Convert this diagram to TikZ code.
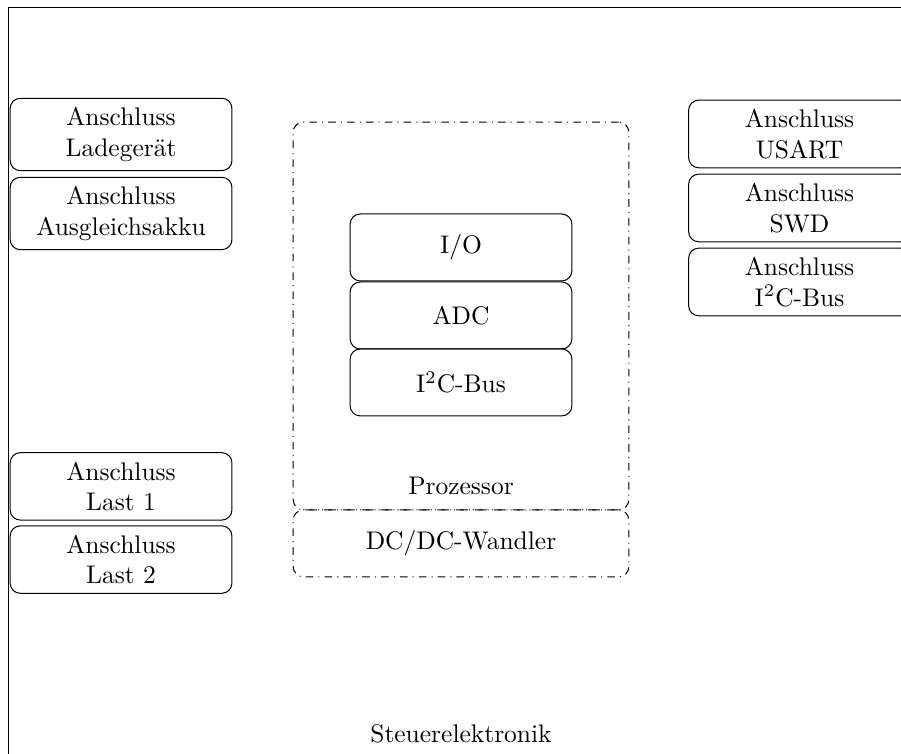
\documentclass[tikz,border=0pt]{standalone}
\usepackage{tikz}
\usetikzlibrary{arrows.meta}

\begin{document}
\begin{tikzpicture}
\useasboundingbox (0,0) rectangle (12.43,-10.39);
\clip (0,0) rectangle (12.43,-10.39);
% Rahmen Steuerelektronik
\coordinate (r1) at (0.12,-0.11);
\coordinate (r2) at (13.5,-11.5);
\draw (r1) rectangle (r2);
\node (st) at (6.36,-10.12) {Steuerelektronik};

\begin{scope}[every node/.style={draw,rounded corners,align=center,minimum width=3.06cm,inner ysep=3.6pt}]
    \node (a) at (1.67,-1.855) {Anschluss\\Ladeger\"at};
    \node (b) at (1.67,-2.945) {Anschluss\\Ausgleichsakku};
    \node (c) at (1.67,-6.71) {Anschluss\\Last 1};
    \node (d) at (1.67,-7.72) {Anschluss\\Last 2};

    \node (A) at (11.03,-1.848) {Anschluss\\USART};
    \node (B) at (11.03,-2.869) {Anschluss\\SWD};
    \node (C) at (11.03,-3.89) {Anschluss\\I\textsuperscript{2}C-Bus};
\end{scope}

\begin{scope}[every node/.style={draw,dash dot,rounded corners,minimum width=4.63cm}]
    \node[minimum height=5.35cm] (p) at (6.36,-4.359) {};
    \node[minimum height=0.924cm] (dc) at (6.36,-7.497) {DC/DC-Wandler};
\end{scope}
\node (pl) at (6.36,-6.70) {Prozessor};

\begin{scope}[every node/.style={draw,rounded corners,minimum width=3.06cm,minimum height=0.924cm}]
    \node (io) at (6.36,-3.414) {I/O};
    \node (adc) at (6.36,-4.352) {ADC};
    \node (i2c) at (6.36,-5.276) {I\textsuperscript{2}C-Bus};
\end{scope}
\end{tikzpicture}
\end{document}
